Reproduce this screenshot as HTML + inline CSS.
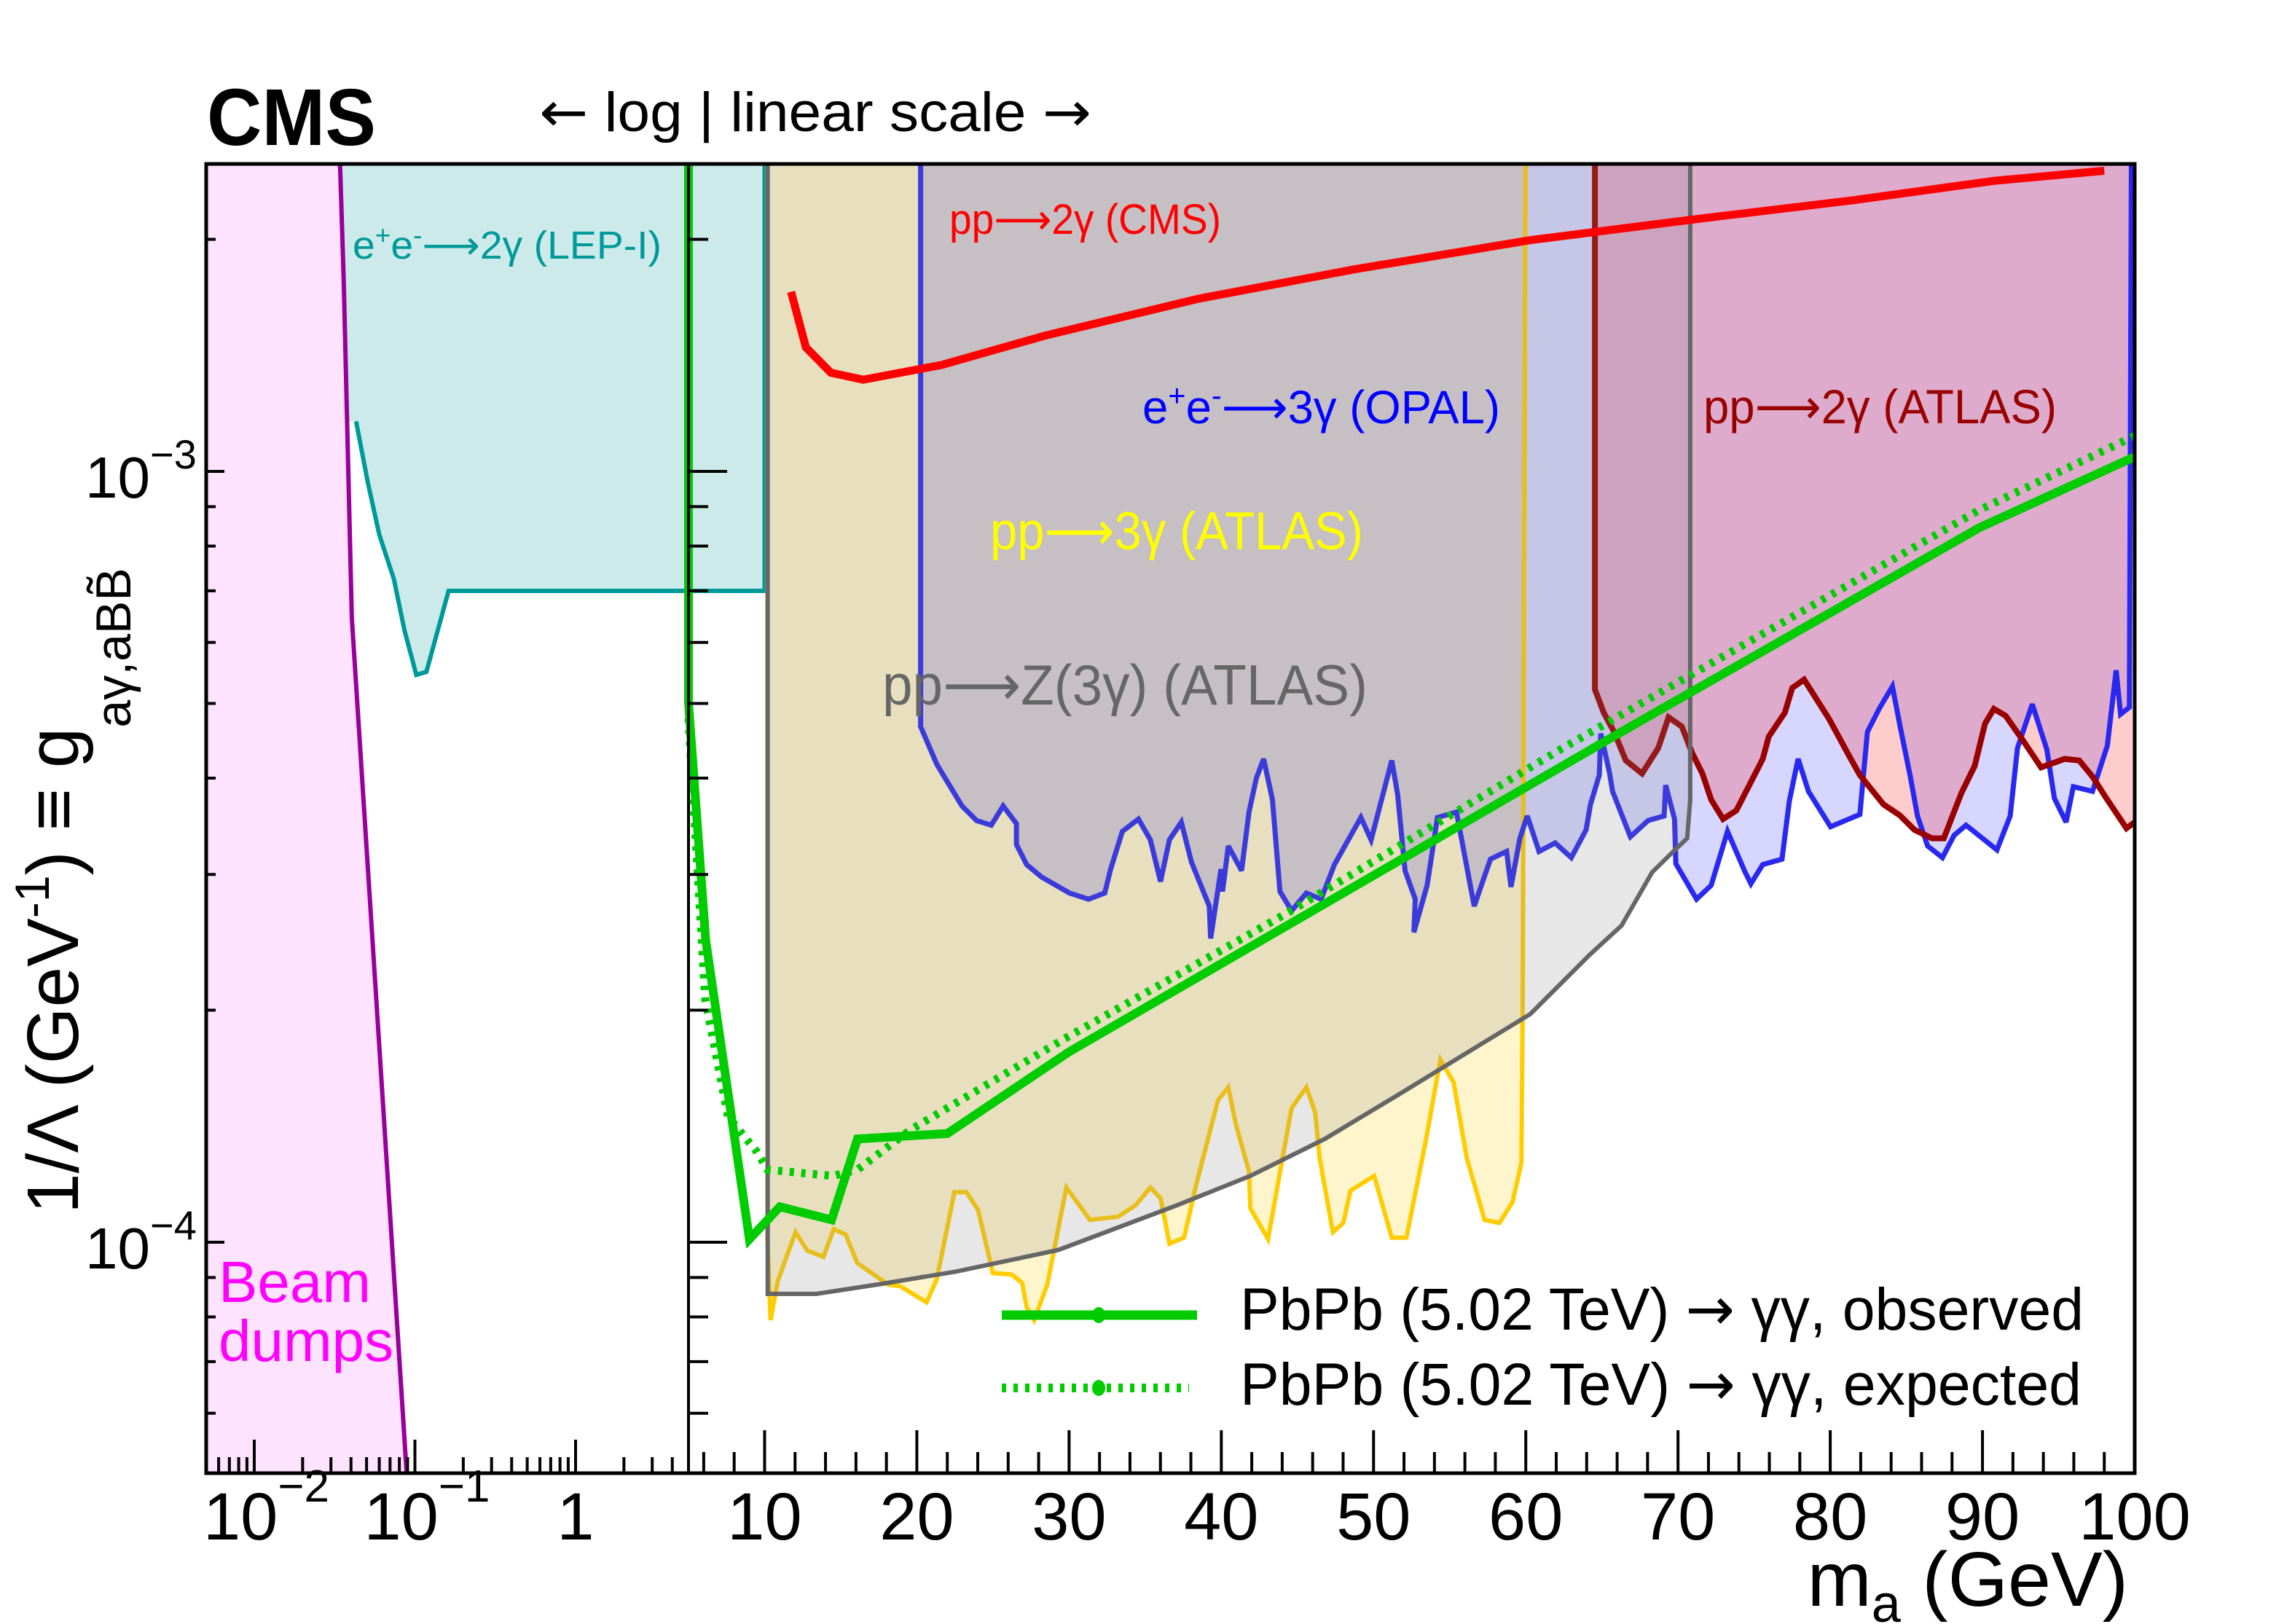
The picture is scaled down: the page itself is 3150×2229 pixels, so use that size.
<!DOCTYPE html>
<html><head><meta charset="utf-8"><style>
html,body{margin:0;padding:0;background:#fff;}
svg{display:block;font-family:"Liberation Sans",Arial,sans-serif;}
</style></head><body>
<svg id="chart" xmlns="http://www.w3.org/2000/svg" width="3150" height="2229" viewBox="0 0 3150 2229">
<defs><clipPath id="plotClip"><rect x="283" y="225" width="2647" height="1797"/></clipPath></defs>
<g id="fills" clip-path="url(#plotClip)"></g>
<g id="lines" clip-path="url(#plotClip)"></g>
<g id="axes"></g>
<text x="284" y="199" font-size="110" font-weight="bold" textLength="232" lengthAdjust="spacingAndGlyphs">CMS</text>
<text x="740" y="180" font-size="76" textLength="758" lengthAdjust="spacingAndGlyphs"><tspan font-family="DejaVu Sans">←</tspan> log | linear scale <tspan font-family="DejaVu Sans">→</tspan></text>
<text x="484" y="355" font-size="54" fill="#009999" textLength="424" lengthAdjust="spacingAndGlyphs">e<tspan font-size="36" dy="-20">+</tspan><tspan dy="20">e</tspan><tspan font-size="36" dy="-20">-</tspan><tspan dy="20" font-family="DejaVu Sans">⟶</tspan>2γ (LEP-I)</text>
<text x="1303" y="321" font-size="58" fill="#ff0000" textLength="373" lengthAdjust="spacingAndGlyphs">pp<tspan font-family="DejaVu Sans">⟶</tspan>2γ (CMS)</text>
<text x="1568" y="581" font-size="64" fill="#0000ff" textLength="491" lengthAdjust="spacingAndGlyphs">e<tspan font-size="42" dy="-24">+</tspan><tspan dy="24">e</tspan><tspan font-size="42" dy="-24">-</tspan><tspan dy="24" font-family="DejaVu Sans">⟶</tspan>3γ (OPAL)</text>
<text x="2338" y="581" font-size="66" fill="#990000" textLength="485" lengthAdjust="spacingAndGlyphs">pp<tspan font-family="DejaVu Sans">⟶</tspan>2γ (ATLAS)</text>
<text x="1359" y="754" font-size="73" fill="#ffff00" textLength="512" lengthAdjust="spacingAndGlyphs">pp<tspan font-family="DejaVu Sans">⟶</tspan>3γ (ATLAS)</text>
<text x="1211" y="967" font-size="78" fill="#666666" textLength="666" lengthAdjust="spacingAndGlyphs">pp<tspan font-family="DejaVu Sans">⟶</tspan>Z(3γ) (ATLAS)</text>
<text x="300" y="1787" font-size="80" fill="#ff00ff">Beam</text>
<text x="300" y="1868" font-size="80" fill="#ff00ff">dumps</text>
<g>
<line x1="1375" y1="1805" x2="1643" y2="1805" stroke="#00cc00" stroke-width="13"/>
<ellipse cx="1508" cy="1805" rx="9" ry="11" fill="#00cc00"/>
<text x="1702" y="1825" font-size="82" textLength="1158" lengthAdjust="spacingAndGlyphs">PbPb (5.02 TeV) <tspan font-family="DejaVu Sans">→</tspan> γγ, observed</text>
<line x1="1375" y1="1905" x2="1632" y2="1905" stroke="#00cc00" stroke-width="12" stroke-dasharray="6,10"/>
<ellipse cx="1508" cy="1905" rx="9" ry="11" fill="#00cc00"/>
<text x="1702" y="1928" font-size="82" textLength="1155" lengthAdjust="spacingAndGlyphs">PbPb (5.02 TeV) <tspan font-family="DejaVu Sans">→</tspan> γγ, expected</text>
</g>
<text x="2921" y="2204" font-size="106" text-anchor="end">m<tspan font-size="72" dy="22">a</tspan><tspan dy="-22"> (GeV)</tspan></text>
<text transform="translate(107,1666) rotate(-90)" font-size="100">1/Λ (GeV<tspan font-size="66" dy="-40">-1</tspan><tspan dy="40">) ≡ g</tspan><tspan font-size="68" dy="72">aγ,aBB̃</tspan></text>
</svg>
<script>
// ---- data (mass in GeV, log10 of coupling in GeV^-1) ----
const beamMass=[0.033,0.036,0.0405,0.0889];
const beamLogG=[-2.5,-2.75,-3.19,-4.3];
const lepMass=[0.043,0.051,0.060,0.074,0.086,0.102,0.118,0.162,10,10];
const lepLogG=[-2.935,-3.015,-3.082,-3.14,-3.206,-3.264,-3.26,-3.155,-3.155,-2.5];
const zMass=[10.2,10.2,13.4,17.7,22.6,29.3,37.1,41.9,46.8,51.6,56.4,60.3,64.2,66.3,68.3,69.8,70.6,70.8,70.8];
const zLogG=[-2.5,-4.067,-4.067,-4.054,-4.038,-4.01,-3.952,-3.914,-3.866,-3.809,-3.751,-3.704,-3.627,-3.589,-3.52,-3.491,-3.476,-3.426,-2.5];
const y3Mass=[10.19,10.19,10.39,10.87,12.03,12.8,13.87,14.54,15.32,16.09,18.12,18.9,20.64,21.31,22.47,23.25,24.02,24.99,26.24,26.92,27.21,27.7,28.57,29.82,31.37,33.21,34.37,35.34,36.01,36.59,37.56,38.33,39.78,40.46,40.95,41.82,41.91,43.07,43.94,44.62,45.59,46.17,46.46,47.33,48.01,48.49,50.04,51.2,52.16,53.42,54.39,55.26,56.13,57.29,58.26,59.13,59.71,59.8,60.0];
const y3LogG=[-2.5,-3.998,-4.101,-4.05,-3.987,-4.011,-4.019,-3.983,-3.99,-4.027,-4.055,-4.057,-4.078,-4.048,-3.935,-3.935,-3.958,-4.04,-4.042,-4.053,-4.084,-4.101,-4.055,-3.929,-3.971,-3.967,-3.952,-3.929,-3.943,-4.002,-3.994,-3.927,-3.816,-3.799,-3.847,-3.908,-3.956,-3.996,-3.9,-3.826,-3.799,-3.832,-3.891,-3.987,-3.975,-3.933,-3.914,-3.994,-3.994,-3.87,-3.763,-3.793,-3.891,-3.971,-3.975,-3.948,-3.897,-3.69,-2.5];
const opalMass=[20.25,20.25,21.31,22.96,23.93,24.89,25.67,26.54,26.54,27.21,28.18,30.02,31.28,32.34,32.73,33.5,34.56,35.34,36.01,36.59,37.37,38.04,39.21,39.3,39.98,40.08,40.46,41.33,41.82,42.3,42.78,43.36,43.85,44.62,45.59,46.55,47.43,49.17,49.84,51.2,51.58,52.07,52.74,52.65,53.52,54.2,55.45,56.61,57.68,58.74,59.03,59.61,60.1,60.87,61.93,62.99,63.96,64.25,64.83,64.93,65.51,65.7,66.87,68.03,69.09,69.19,69.77,69.86,71.22,72.18,73.25,74.41,74.79,75.57,76.83,77.31,77.89,78.57,80.02,81.95,82.44,83.21,84.08,84.57,85.24,85.73,86.4,87.37,88.14,88.92,90.95,91.82,92.3,93.27,94.23,94.72,95.49,95.97,97.23,98.2,98.78,99.07,99.65,99.8];
const opalLogG=[-2.5,-3.331,-3.38,-3.434,-3.453,-3.459,-3.434,-3.457,-3.484,-3.51,-3.526,-3.547,-3.555,-3.547,-3.516,-3.467,-3.451,-3.478,-3.532,-3.478,-3.455,-3.507,-3.564,-3.606,-3.516,-3.545,-3.486,-3.518,-3.442,-3.398,-3.373,-3.426,-3.545,-3.57,-3.547,-3.555,-3.51,-3.449,-3.478,-3.375,-3.419,-3.518,-3.555,-3.598,-3.537,-3.449,-3.442,-3.564,-3.503,-3.493,-3.539,-3.476,-3.447,-3.493,-3.482,-3.501,-3.465,-3.432,-3.394,-3.34,-3.392,-3.415,-3.474,-3.453,-3.447,-3.407,-3.451,-3.509,-3.555,-3.537,-3.467,-3.52,-3.535,-3.51,-3.503,-3.428,-3.373,-3.415,-3.461,-3.445,-3.338,-3.308,-3.279,-3.329,-3.394,-3.447,-3.486,-3.501,-3.472,-3.459,-3.491,-3.447,-3.359,-3.302,-3.361,-3.424,-3.455,-3.409,-3.415,-3.356,-3.258,-3.315,-3.306,-2.5];
const atlas2Mass=[64.54,64.54,65.12,65.8,66.57,67.64,68.7,69.38,70.25,70.92,71.6,72.18,72.96,73.83,75.57,75.96,77.02,77.5,78.28,79.92,81.18,81.95,83.5,84.56,85.53,86.69,87.46,88.62,89.49,90.17,90.75,91.52,92.69,93.85,95.4,96.36,97.23,98.1,99.46,100];
const atlas2LogG=[-2.5,-3.283,-3.313,-3.338,-3.375,-3.392,-3.359,-3.319,-3.331,-3.365,-3.392,-3.426,-3.451,-3.44,-3.373,-3.344,-3.313,-3.281,-3.27,-3.321,-3.367,-3.394,-3.432,-3.446,-3.465,-3.476,-3.476,-3.417,-3.382,-3.327,-3.308,-3.317,-3.35,-3.384,-3.373,-3.375,-3.396,-3.423,-3.463,-3.455];
const cmsMass=[11.74,12.71,14.35,16.48,21.6,28.4,38.5,48.7,60.3,71.9,81.6,90.8,98.0];
const cmsLogG=[-2.767,-2.839,-2.872,-2.881,-2.862,-2.824,-2.776,-2.738,-2.70,-2.671,-2.648,-2.623,-2.61];
const obsMass=[5,5,6.13,9.0,11.0,14.4,16.1,22.0,30.0,66.1,89.8,100];
const obsLogG=[-2.5,-3.30,-3.608,-3.996,-3.954,-3.971,-3.866,-3.859,-3.753,-3.34,-3.073,-2.981];
const expMass=[5,6.1,7.6,9.5,10.2,14.5,16.1,19.6,29.7,44.4,61.9,89.8,100];
const expLogG=[-3.32,-3.685,-3.837,-3.883,-3.906,-3.914,-3.906,-3.854,-3.736,-3.572,-3.365,-3.05,-2.954];
const xLogLabels=["10","10","1"], xLogLabelExp=["−2","−1",""], xLogTickVals=[0.01,0.1,1];
const xLinTickVals=[10,20,30,40,50,60,70,80,90,100];
const yTickVals=[-3,-4], yTickExp=["−3","−4"];

// ---- axis functions ----
const L=283,R=2930,T=225,B=2022,BRK=945;
function X(m){return m<5?349+(Math.log10(m)+2)*220.5:BRK+(m-5)*(R-BRK)/95;}
function Y(lg){return 647-(lg+3)*1058;}
const NS="http://www.w3.org/2000/svg";
function mk(tag,attrs,parent){const e=document.createElementNS(NS,tag);for(const k in attrs)e.setAttribute(k,attrs[k]);parent.appendChild(e);return e;}
function pts(ms,ls){return ms.map((m,i)=>X(m).toFixed(1)+","+Y(ls[i]).toFixed(1)).join(" ");}
function P(m,l){return X(m).toFixed(1)+","+Y(l).toFixed(1);}
const fills=document.getElementById("fills"),lines=document.getElementById("lines"),axes=document.getElementById("axes");

// fills
let e;
e=mk("polygon",{points:P(0.033,-2.5)+" "+pts(lepMass.slice().reverse(),lepLogG.slice().reverse())+" "+P(0.0385,-2.935),fill:"#cceaea"},fills);


e=mk("polygon",{points:P(0.004,-2.5)+" "+pts(beamMass,beamLogG)+" "+P(0.004,-4.4),fill:"#fde3fd"},fills);


e=mk("polygon",{points:pts(y3Mass,y3LogG),fill:"#ffcc00","fill-opacity":"0.2"},fills);


e=mk("polygon",{points:pts(opalMass,opalLogG),fill:"#0000ff","fill-opacity":"0.16"},fills);


e=mk("polygon",{points:pts(atlas2Mass,atlas2LogG)+" "+P(100.5,-3.455)+" "+P(100.5,-2.5),fill:"#ff0000","fill-opacity":"0.2"},fills);



// boundary lines
function line(ms,ls,col,w,name,dash){const p=mk("polyline",{points:pts(ms,ls),fill:"none",stroke:col,"stroke-width":w,"stroke-linejoin":"miter","stroke-miterlimit":"3"},lines);if(dash)p.setAttribute("stroke-dasharray",dash);return p;}
line(lepMass,lepLogG,"#009999",6,"lep-limit-line");
line(beamMass,beamLogG,"#990099",6,"beam-dump-line");
line(y3Mass,y3LogG,"#ffcc00",6,"atlas-3gamma-line");
line(opalMass,opalLogG,"#2828f0",7,"opal-limit-line");
line(atlas2Mass,atlas2LogG,"#990000",8,"atlas-2gamma-line");
e=mk("polygon",{points:pts(zMass,zLogG),fill:"#888888","fill-opacity":"0.2"},lines);


line(zMass,zLogG,"#666666",6,"atlas-z3gamma-line");
line(cmsMass,cmsLogG,"#ff0000",11,"cms-2gamma-line");
line(expMass,expLogG,"#00cc00",11,"expected-limit-line","6,10");
line(obsMass,obsLogG,"#00cc00",12,"observed-limit-line");

// frame
e=mk("rect",{x:L,y:T,width:R-L,height:B-T,fill:"none",stroke:"#000","stroke-width":5},axes);


e=mk("line",{x1:BRK,y1:T,x2:BRK,y2:B,stroke:"#000","stroke-width":4},axes);


function tick(x1,y1,x2,y2,name){const t=mk("line",{x1:x1,y1:y1,x2:x2,y2:y2,stroke:"#000","stroke-width":4},axes);}
for(let d=-3;d<=0;d++){for(let k=1;k<=9;k++){const v=k*Math.pow(10,d);if(v<0.0049||v>=5)continue;const x=X(v);tick(x,B,x,B-(k===1?46:22),"x-tick");}}
for(let m=6;m<=100;m+=2){const x=X(m);tick(x,B,x,B-(m%10===0?59:29),"x-tick");}
for(let d=-5;d<=-3;d++){for(let k=1;k<=9;k++){const lg=Math.log10(k)+d;const y=Y(lg);if(y<T+2||y>B-2)continue;tick(L,y,L+(k===1?25:13),y,"y-tick");tick(BRK,y,BRK+(k===1?53:27),y,"y-tick-break");}}
xLogTickVals.forEach((v,i)=>{const x=X(v);const t=mk("text",{"font-size":92,y:2113},axes);
 if(xLogLabelExp[i]){t.setAttribute("x",x-70);t.textContent=xLogLabels[i];const s=mk("tspan",{"font-size":62,dy:-52},t);s.textContent=xLogLabelExp[i];}
 else{t.setAttribute("x",x);t.setAttribute("text-anchor","middle");t.textContent=xLogLabels[i];}
 
 });
xLinTickVals.forEach(v=>{const t=mk("text",{x:X(v),y:2113,"font-size":92,"text-anchor":"middle"},axes);t.textContent=String(v);
 
 });
yTickVals.forEach((v,i)=>{const y=Y(v);const t=mk("text",{x:117,y:y+36,"font-size":80},axes);t.textContent="10";const s=mk("tspan",{"font-size":56,dy:-40},t);s.textContent=yTickExp[i];
 
 });
</script>
</body></html>
